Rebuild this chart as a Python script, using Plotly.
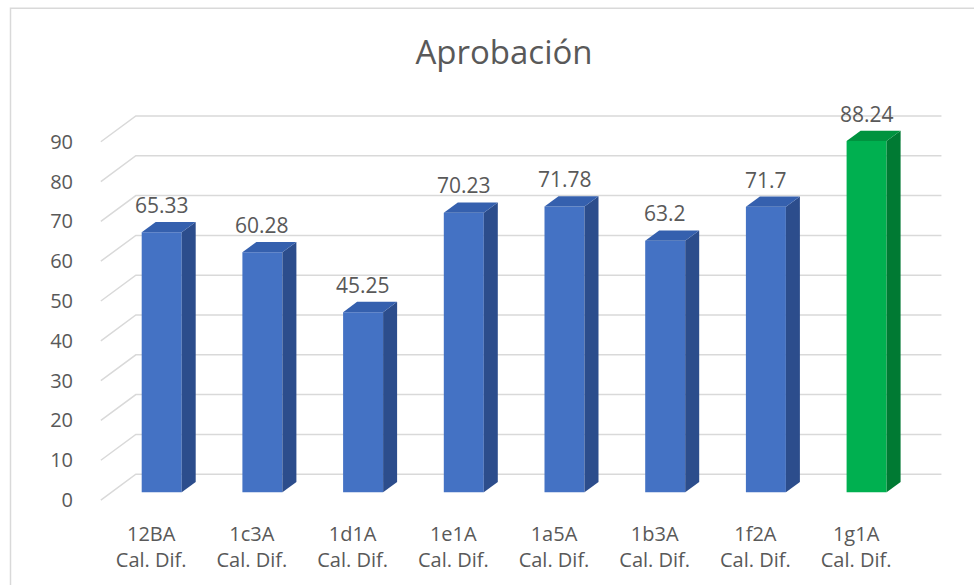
import plotly.graph_objects as go

# ---------------- data ----------------
categories = ["12BA<br>Cal. Dif.", "1c3A<br>Cal. Dif.", "1d1A<br>Cal. Dif.", "1e1A<br>Cal. Dif.",
              "1a5A<br>Cal. Dif.", "1b3A<br>Cal. Dif.", "1f2A<br>Cal. Dif.", "1g1A<br>Cal. Dif."]
values = [65.33, 60.28, 45.25, 70.23, 71.78, 63.2, 71.7, 88.24]
value_labels = ["65.33", "60.28", "45.25", "70.23", "71.78", "63.2", "71.7", "88.24"]
y_ticks = [0, 10, 20, 30, 40, 50, 60, 70, 80, 90]
title_text = "Aprobación"

# ---------------- style / geometry ----------------
W, H = 974, 585
X0PX, XUNIT = 151.2, 100.7      # pixel of category 0 on front plane, px per category
Y0PX, YUNIT = 503.0, 4.01       # pixel of value 0 on front plane, px per unit
L, R, T, B = 90, 20, 95, 75
xr = [(L - X0PX) / XUNIT, (W - R - X0PX) / XUNIT]
yr = [(Y0PX - (H - B)) / YUNIT, (Y0PX - T) / YUNIT]
DX = 35.0 / XUNIT               # full depth offset (x)
DY = 26.0 / YUNIT               # full depth offset (y)
F0, F1 = 0.3, 0.7               # bar front / back depth fractions
BW = 40.0 / XUNIT               # bar width

FONT = "Open Sans"
TXT = "#595959"
GRID = "#D9D9D9"
front_cols = ["#4472C4"] * 7 + ["#00B050"]
top_cols = ["#3560AE"] * 7 + ["#00933F"]
side_cols = ["#2C4D8C"] * 7 + ["#007A33"]

n = len(values)
fig = go.Figure()

# gridlines (front slant + back wall) on the bottom subplot layer
gx, gy = [], []
for t in y_ticks:
    gx += [-0.5, -0.5 + DX, n - 0.5 + DX, None]
    gy += [t, t + DY, t + DY, None]
fig.add_trace(go.Scatter(x=gx, y=gy, mode="lines", line=dict(color=GRID, width=1.5),
                         hoverinfo="skip", showlegend=False, xaxis="x", yaxis="y"))

# bar front faces (overlay layer)
fx = [i + F0 * DX for i in range(n)]
fig.add_trace(go.Bar(x=fx, y=values, base=F0 * DY, width=BW,
                     marker=dict(color=front_cols, line=dict(width=0)),
                     showlegend=False, hovertemplate="%{y}<extra></extra>",
                     xaxis="x2", yaxis="y2"))

# side and top faces
bdx = (F1 - F0) * DX
bdy = (F1 - F0) * DY
for i, v in enumerate(values):
    xl = fx[i] - BW / 2
    xrr = fx[i] + BW / 2
    y0 = F0 * DY
    y1 = v + F0 * DY
    fig.add_trace(go.Scatter(x=[xrr, xrr + bdx, xrr + bdx, xrr, xrr],
                             y=[y0, y0 + bdy, y1 + bdy, y1, y0],
                             fill="toself", fillcolor=side_cols[i], mode="lines",
                             line=dict(width=0, color=side_cols[i]),
                             hoverinfo="skip", showlegend=False, xaxis="x2", yaxis="y2"))
    fig.add_trace(go.Scatter(x=[xl, xrr, xrr + bdx, xl + bdx, xl],
                             y=[y1, y1, y1 + bdy, y1 + bdy, y1],
                             fill="toself", fillcolor=top_cols[i], mode="lines",
                             line=dict(width=0, color=top_cols[i]),
                             hoverinfo="skip", showlegend=False, xaxis="x2", yaxis="y2"))
    fig.add_annotation(x=fx[i], y=v + F1 * DY, xref="x2", yref="y2", text=value_labels[i],
                       showarrow=False, yshift=17, yanchor="middle", xanchor="center",
                       font=dict(family=FONT, size=21, color=TXT))

# chart border
def px2paper_x(p):
    return (p - L) / (W - L - R)

def px2paper_y(p):
    return ((H - B) - p) / (H - T - B)

fig.add_shape(type="rect", xref="paper", yref="paper",
              x0=px2paper_x(10.5), x1=px2paper_x(990), y0=px2paper_y(600), y1=px2paper_y(7.5),
              line=dict(color=GRID, width=1.5), fillcolor="rgba(0,0,0,0)", layer="below")

hidden = dict(showgrid=False, zeroline=False, showline=False, showticklabels=False,
              ticks="", fixedrange=True)
fig.update_layout(
    width=W, height=H, autosize=False,
    margin=dict(l=L, r=R, t=T, b=B),
    paper_bgcolor="white", plot_bgcolor="white",
    barmode="overlay",
    title=dict(text=title_text, x=504 / W, xanchor="center", y=1 - 52 / H, yanchor="middle",
               font=dict(family=FONT, size=33, color=TXT)),
    xaxis=dict(range=xr, tickmode="array", tickvals=list(range(n)), ticktext=categories,
               showgrid=False, zeroline=False, showline=False,
               ticks="outside", ticklen=9, tickcolor="rgba(0,0,0,0)",
               tickfont=dict(family=FONT, size=20, color=TXT), fixedrange=True),
    yaxis=dict(range=yr, tickmode="array", tickvals=y_ticks,
               showgrid=False, zeroline=False, showline=False,
               ticks="outside", ticklen=12, tickcolor="rgba(0,0,0,0)",
               tickfont=dict(family=FONT, size=20, color=TXT), fixedrange=True),
    xaxis2=dict(range=xr, overlaying="x", anchor="y2", **hidden),
    yaxis2=dict(range=yr, overlaying="y", anchor="x2", **hidden),
    font=dict(family=FONT, color=TXT),
)

fig.write_html("out.html", config={"displayModeBar": False},
               post_script="document.body.style.margin='0';document.body.style.overflow='hidden';")
